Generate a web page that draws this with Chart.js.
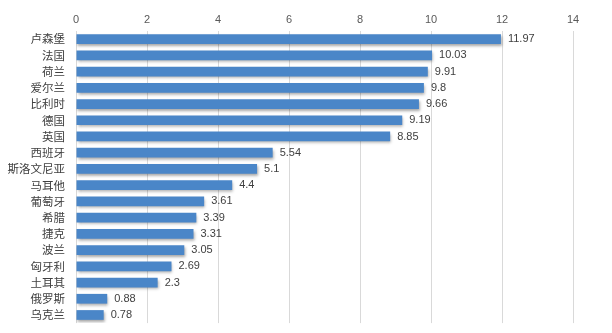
<!DOCTYPE html>
<html><head><meta charset="utf-8">
<script src="https://cdn.jsdelivr.net/npm/chart.js@4/dist/chart.umd.min.js"></script>
<style>html,body{margin:0;padding:0;background:#fff}#wrap{width:612px;height:333px}</style>
</head><body><div id="wrap"><canvas id="c" width="612" height="333"></canvas></div>
<script>
const categories = ['卢森堡','法国','荷兰','爱尔兰','比利时','德国','英国','西班牙','斯洛文尼亚','马耳他','葡萄牙','希腊','捷克','波兰','匈牙利','土耳其','俄罗斯','乌克兰'];
const values = [11.97,10.03,9.91,9.8,9.66,9.19,8.85,5.54,5.1,4.4,3.61,3.39,3.31,3.05,2.69,2.3,0.88,0.78];
const xTicks = [0,2,4,6,8,10,12,14];

const shadowPlugin = {
  id:'shadow',
  beforeDatasetsDraw(chart){const c=chart.ctx;c.save();c.shadowColor='rgba(0,0,0,0.35)';c.shadowOffsetY=2;c.shadowOffsetX=1;c.shadowBlur=3;},
  afterDatasetsDraw(chart){chart.ctx.restore();}
};
const labelPlugin = {
  id:'vlabels',
  afterDatasetsDraw(chart){
    const c=chart.ctx; const meta=chart.getDatasetMeta(0);
    c.save(); c.font='11px "Liberation Sans", Arial, sans-serif'; c.fillStyle='#404040';
    c.textAlign='left'; c.textBaseline='middle';
    meta.data.forEach((bar,i)=>{ c.fillText(String(values[i]), bar.x+7, bar.y); });
    c.restore();
  }
};

new Chart(document.getElementById('c'),{
  type:'bar',
  data:{labels:categories,datasets:[{data:values,backgroundColor:'#4a86c8',borderWidth:0,categoryPercentage:1,barPercentage:0.6}]},
  options:{
    indexAxis:'y',responsive:false,animation:false,
    layout:{padding:{left:0,right:39,top:0,bottom:6}},
    plugins:{legend:{display:false},tooltip:{enabled:false}},
    scales:{
      x:{position:'top',min:0,max:14,
        afterBuildTicks(s){s.ticks=xTicks.map(v=>({value:v}));},
        afterFit(s){s.height=31;},
        ticks:{color:'#595959',font:{family:'"Liberation Sans", Arial, sans-serif',size:11},padding:4},
        grid:{color:'#d9d9d9',drawTicks:false},border:{display:false}},
      y:{afterFit(s){s.width=76;},
        ticks:{color:'#404040',font:{family:'"Noto Sans CJK SC", sans-serif',size:11.5},padding:3,autoSkip:false},
        grid:{display:false,drawTicks:true,tickLength:8},border:{display:false}}
    }
  },
  plugins:[shadowPlugin,labelPlugin]
});
</script></body></html>
